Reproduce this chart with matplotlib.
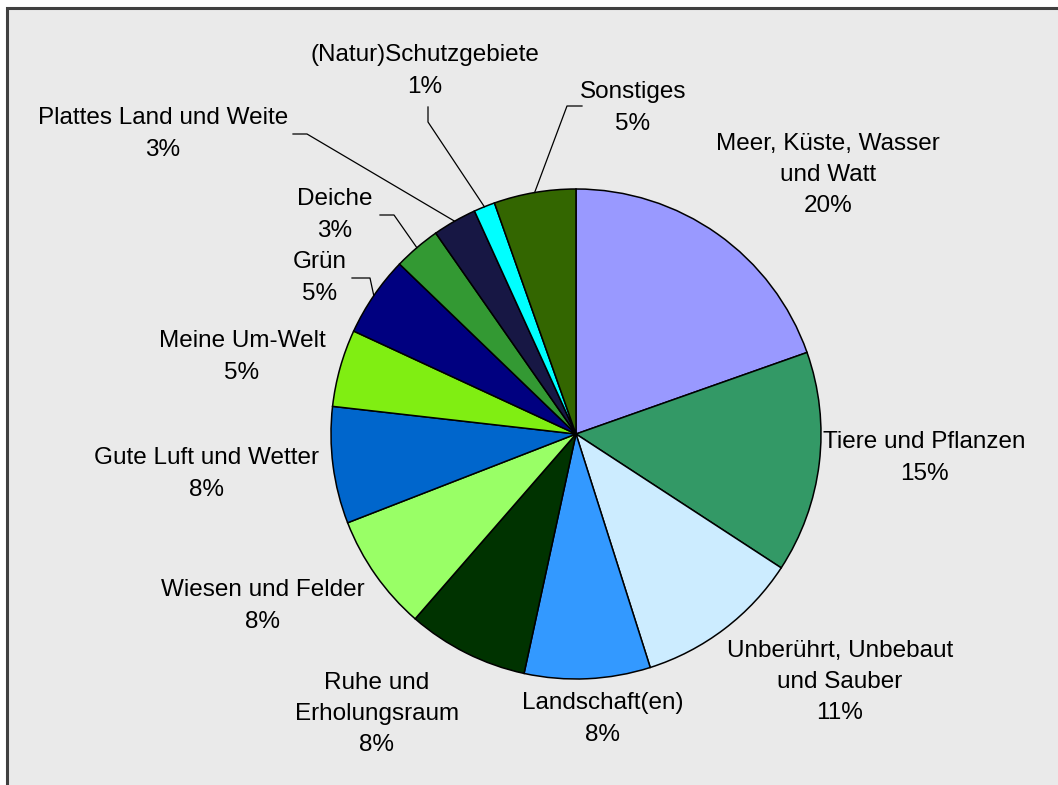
import matplotlib.pyplot as plt
import matplotlib.patches as mpatches
import numpy as np

plt.rcParams['font.family'] = ['Liberation Sans', 'DejaVu Sans']

# Daten
kategorien = ['Meer, Küste, Wasser\nund Watt', 'Tiere und Pflanzen',
              'Unberührt, Unbebaut\nund Sauber', 'Landschaft(en)',
              'Ruhe und\nErholungsraum', 'Wiesen und Felder',
              'Gute Luft und Wetter', 'Meine Um-Welt', 'Grün', 'Deiche',
              'Plattes Land und Weite', '(Natur)Schutzgebiete', 'Sonstiges']
anteile = [19.6, 14.6, 10.9, 8.3, 8.0, 7.7, 7.7, 5.1, 5.3, 3.1, 2.9, 1.4, 5.4]
farben = ['#9999FF', '#339966', '#CCECFF', '#3399FF', '#003300', '#99FF66',
          '#0066CC', '#80EE12', '#000080', '#339933', '#171744', '#00FFFF',
          '#336600']

# Layout (Pixel, y von oben)
W, H = 1058, 785
mitte = (576, 434)
radius = 245
label_pos = [(828, 175), (924, 458), (840, 682), (603, 719), (377, 714),
             (263, 606), (206, 474), (242, 357), (320, 278), (335, 215),
             (163, 134), (425, 71), (633, 108)]
# Führungslinien: Punkte von der Beschriftung bis kurz vor den Rand
leader = {
    12: [(582, 106), (567, 106)],
    11: [(428, 107), (428, 122)],
    10: [(293, 134), (307, 134)],
    9: [(380, 215), (394, 215)],
    8: [(352, 278), (370, 278)],
}

fig = plt.figure(figsize=(W / 100, H / 100), dpi=100)
ax = fig.add_axes([0, 0, 1, 1])

# Hintergrund
ax.add_patch(mpatches.Rectangle((7, -10), W + 20, H - 8 + 10, facecolor='#EAEAEA',
                                edgecolor='#404040', linewidth=2.2, zorder=0))

wedges, _ = ax.pie(anteile, colors=farben, startangle=90, counterclock=False,
                   radius=radius, center=(mitte[0], H - mitte[1]),
                   wedgeprops=dict(edgecolor='black', linewidth=1.1),
                   frame=True)
ax.set_xlim(0, W)
ax.set_ylim(0, H)
ax.set_aspect('equal')
ax.axis('off')

summe = sum(anteile)
for i, (name, wert) in enumerate(zip(kategorien, anteile)):
    x, y = label_pos[i]
    ax.text(x, H - y, f'{name}\n{round(wert / summe * 100):.0f}%',
            ha='center', va='center', fontsize=17.5, linespacing=1.55,
            color='black')
    if i in leader:
        w = wedges[i]
        theta = np.deg2rad((w.theta1 + w.theta2) / 2)
        rx = mitte[0] + radius * np.cos(theta)
        ry = H - mitte[1] + radius * np.sin(theta)
        xs = [p[0] for p in leader[i]] + [rx]
        ys = [H - p[1] for p in leader[i]] + [ry]
        ax.plot(xs, ys, color='black', linewidth=0.9)

plt.savefig('out.png', dpi=100)
